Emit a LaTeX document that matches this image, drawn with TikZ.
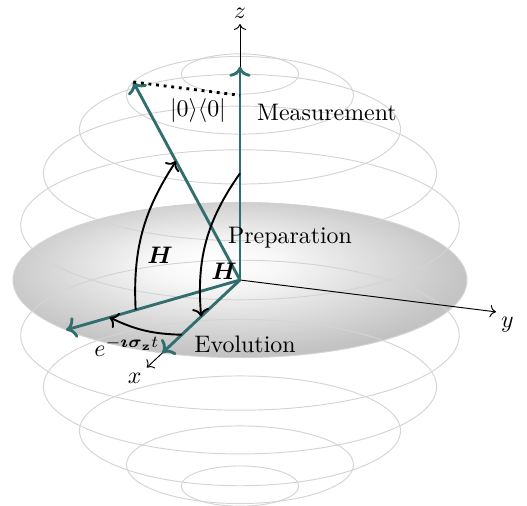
\documentclass[tikz,border=0pt]{standalone}
\usepackage{amsmath,xcolor}
\definecolor{blochgreen}{RGB}{50,110,110}
\definecolor{latgray}{RGB}{212,212,212}
\usepackage{tikz}
\usetikzlibrary{arrows.meta,calc}
\pgfdeclareradialshading{diskshade}{\pgfpoint{-3bp}{6bp}}{color(0bp)=(white); color(7bp)=(white!97!black); color(25bp)=(black!22); color(35bp)=(black!30); color(50bp)=(black!30)}

\begin{document}
\begin{tikzpicture}[
  x={(-1.1423cm,-1.0734cm)},y={(3.1386cm,-0.3907cm)},z={(0cm,3.1386cm)},
  latline/.style={latgray,line width=0.4pt},
  axis/.style={->,thin},
  blochvec/.style={->,blochgreen,line width=1.2pt},
  gate/.style={->,thick},
  lbl/.style={font=\normalsize}]
  \useasboundingbox (-3.531cm,-3.325cm) rectangle (4.223cm,4.120cm);
  % equator disc
  \shade[shading=diskshade] (0,0,0) ellipse [x radius=3.34cm,y radius=1.1423cm];
  % latitude circles
  \foreach \lat in {-75,-60,...,75}{
    \draw[latline] (0,0,{sin(\lat)}) ellipse [x radius={3.34cm*cos(\lat)},y radius={1.1423cm*cos(\lat)}];
  }
  % points on the sphere
  \coordinate (O) at (0,0,0);
  \coordinate (zplus) at (0,0,1);
  \coordinate (xplus) at (1,0,0);
  \coordinate (evolved) at (0.866,-0.5,0);
  \coordinate (rotated) at (0,-0.5,0.866);
  \coordinate (proj) at (0,0,0.866);
  % axes
  \coordinate (xend) at (1.2,0,0);
  \coordinate (yend) at (0,1.2,0);
  \coordinate (zend) at (0,0,1.2);
  \draw[axis] (O) -- (xend) node[below left,inner sep=2pt] (xlbl) {$x$};
  \draw[axis] (O) -- (yend) node[below right,inner sep=2pt] (ylbl) {$y$};
  \draw[axis] (O) -- (zend) node[above,inner sep=2pt] (zlbl) {$z$};
  % Bloch vectors
  \draw[blochvec] (O) -- (zplus);
  \draw[blochvec] (O) -- (xplus);
  \draw[blochvec] (O) -- (evolved);
  \draw[blochvec] (O) -- (rotated);
  \draw[very thick,dotted] (rotated) -- (proj);
  % gates
  \coordinate (h1s) at ($(O)!0.5!(zplus)$);
  \coordinate (h1e) at ($(O)!0.5!(xplus)$);
  \coordinate (evs) at ($(O)!0.75!(xplus)$);
  \coordinate (eve) at ($(O)!0.75!(evolved)$);
  \coordinate (h2s) at ($(O)!0.6!(evolved)$);
  \coordinate (h2e) at ($(O)!0.6!(rotated)$);
  \draw[gate] (h1s) to[bend right=20] (h1e);
  \draw[gate] (evs) to[bend left=12] (eve);
  \draw[gate] (h2s) to[bend left=18] (h2e);
  % labels
  \node[lbl] (hprep) at (-0.235cm,0.132cm) {$\boldsymbol{H}$};
  \node[lbl] (hmeas) at (-1.177cm,0.368cm) {$\boldsymbol{H}$};
  \node[lbl] (evlbl) at (-1.663cm,-0.986cm) {$e^{-\boldsymbol{\imath\sigma}_{\mathbf{z}}t}$};
  \node[lbl] (projlbl) at (-0.618cm,2.501cm) {$|0\rangle\langle0|$};
  \node[lbl] (preptxt) at (0.736cm,0.618cm) {Preparation};
  \node[lbl] (evoltxt) at (0.074cm,-0.942cm) {Evolution};
  \node[lbl] (meastxt) at (1.280cm,2.472cm) {Measurement};
\end{tikzpicture}
\end{document}
